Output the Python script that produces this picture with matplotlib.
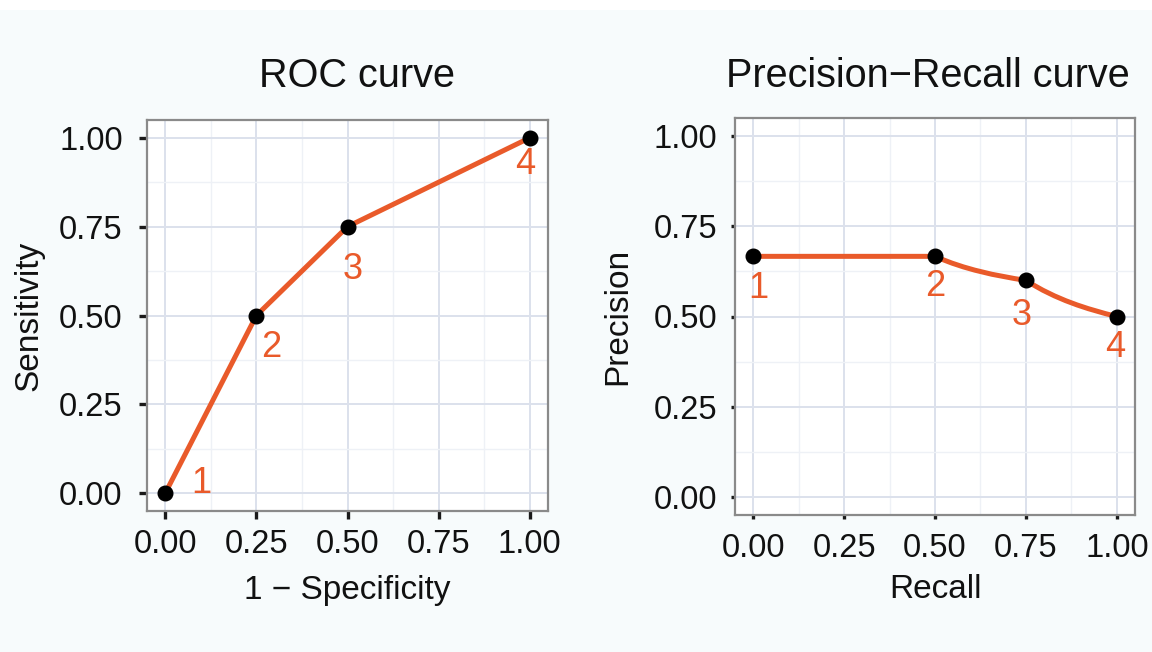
import numpy as np
import matplotlib
matplotlib.use('Agg')
import matplotlib.pyplot as plt
from matplotlib.path import Path
from matplotlib.patches import PathPatch, Rectangle

# ============ Dataset ============
roc_fpr = [0.00, 0.25, 0.50, 1.00]
roc_tpr = [0.00, 0.50, 0.75, 1.00]
pr_recall = [0.00, 0.50, 0.75, 1.00]
pr_precision = [2 / 3, 2 / 3, 0.60, 0.50]
point_labels = ['1', '2', '3', '4']
tick_values = [0.00, 0.25, 0.50, 0.75, 1.00]
tick_labels = ['0.00', '0.25', '0.50', '0.75', '1.00']

LINE = '#E95A2A'
BG = '#F7FBFC'
TXT = '#111111'

plt.rcParams['font.family'] = 'Liberation Sans'


def pr_slope(r, p, k):
    # d(precision)/d(recall) when TP and FP move linearly (FP = FP0 + k * dTP)
    tp = r
    fp = r * (1 - p) / p
    return (fp - k * tp) / (tp + fp) ** 2


def pr_path(rs, ps):
    # PR space interpolation between points, drawn as cubic bezier segments
    verts = [(rs[0], ps[0])]
    codes = [Path.MOVETO]
    for i in range(len(rs) - 1):
        r0, r1, p0, p1 = rs[i], rs[i + 1], ps[i], ps[i + 1]
        h = r1 - r0
        if abs(p1 - p0) < 1e-9:
            m0 = m1 = 0.0
        else:
            fp0, fp1 = r0 * (1 - p0) / p0, r1 * (1 - p1) / p1
            k = (fp1 - fp0) / (r1 - r0)
            m0, m1 = pr_slope(r0, p0, k), pr_slope(r1, p1, k)
        verts += [(r0 + h / 3, p0 + m0 * h / 3),
                  (r1 - h / 3, p1 - m1 * h / 3),
                  (r1, p1)]
        codes += [Path.CURVE4] * 3
    return Path(verts, codes)


def style_axes(ax, tick_len, ypad):
    ax.set_facecolor('white')
    ax.set_xlim(-0.05, 1.05)
    ax.set_ylim(-0.05, 1.05)
    ax.set_xticks(tick_values)
    ax.set_xticklabels(tick_labels)
    ax.set_yticks(tick_values)
    ax.set_yticklabels(tick_labels)
    ax.set_xticks(np.arange(0.125, 1.0, 0.25), minor=True)
    ax.set_yticks(np.arange(0.125, 1.0, 0.25), minor=True)
    ax.grid(which='major', color='#DCE1EC', linewidth=1.4, zorder=0)
    ax.grid(which='minor', color='#EEF1F6', linewidth=1.0, zorder=0)
    ax.set_axisbelow(True)
    ax.tick_params(which='major', length=tick_len, width=2.4, color='#1A1A1A',
                   labelsize=23.5, labelcolor=TXT)
    ax.tick_params(axis='x', pad=13 - tick_len)
    ax.tick_params(axis='y', pad=ypad)
    ax.tick_params(which='minor', length=0)
    for s in ax.spines.values():
        s.set_color('#8A8A8A')
        s.set_linewidth(1.6)


fig = plt.figure(figsize=(11.52, 6.52), dpi=100, facecolor=BG)
fig.patches.append(Rectangle((0, 1 - 10 / 652), 1, 10 / 652, transform=fig.transFigure,
                             facecolor='white', edgecolor='none', zorder=-1))

W, H = 1152.0, 652.0
ax1 = fig.add_axes([147 / W, 1 - 511 / H, 401 / W, 391 / H])
ax2 = fig.add_axes([735 / W, 1 - 515 / H, 400 / W, 397 / H])

# ============ ROC ============
style_axes(ax1, 5.5, 12)
ax1.plot(roc_fpr, roc_tpr, '-', color=LINE, linewidth=3.6,
         solid_joinstyle='round', solid_capstyle='round', zorder=3)
ax1.plot(roc_fpr, roc_tpr, 'o', color='black', markersize=10.5, zorder=4, clip_on=False)
roc_offsets = [(26, 7), (11, -23), (4, -31), (-3, -19)]
for xv, yv, lab, off in zip(roc_fpr, roc_tpr, point_labels, roc_offsets):
    ax1.annotate(lab, (xv, yv), xytext=off, textcoords='offset points',
                 ha='center', va='center', fontsize=26, color=LINE, zorder=5)

# ============ Precision-Recall ============
style_axes(ax2, 3, 10)
ax2.add_patch(PathPatch(pr_path(pr_recall, pr_precision), facecolor='none', edgecolor=LINE,
                        linewidth=3.6, capstyle='round', joinstyle='round', zorder=3))
ax2.plot(pr_recall, pr_precision, 'o', color='black', markersize=10.5, zorder=4, clip_on=False)
pr_offsets = [(4, -23), (0, -22), (-3, -25), (-1, -22)]
for xv, yv, lab, off in zip(pr_recall, pr_precision, point_labels, pr_offsets):
    ax2.annotate(lab, (xv, yv), xytext=off, textcoords='offset points',
                 ha='center', va='center', fontsize=26, color=LINE, zorder=5)

# ============ Titles and Labels ============
fig.text(357 / W, 1 - 76 / H, 'ROC curve', ha='center', va='center', fontsize=28.5, color=TXT)
fig.text(928 / W, 1 - 76 / H, 'Precision\u2212Recall curve', ha='center', va='center',
         fontsize=28.5, color=TXT)

ax1.set_xlabel('1 \u2212 Specificity', fontsize=24, color=TXT)
ax1.set_ylabel('Sensitivity', fontsize=24, color=TXT)
ax2.set_xlabel('Recall', fontsize=24, color=TXT)
ax2.set_ylabel('Precision', fontsize=24, color=TXT)

ax1.xaxis.set_label_coords(0.5, -(590 - 511) / 391)
ax1.yaxis.set_label_coords(-(147 - 29) / 401, 0.50)
ax2.xaxis.set_label_coords(0.5, -(589 - 515) / 397)
ax2.yaxis.set_label_coords(-(735 - 618) / 400, 0.5)
for ax in (ax1, ax2):
    ax.xaxis.label.set_va('center')
    ax.yaxis.label.set_va('center')

fig.savefig('out.png', dpi=100, facecolor=fig.get_facecolor())
